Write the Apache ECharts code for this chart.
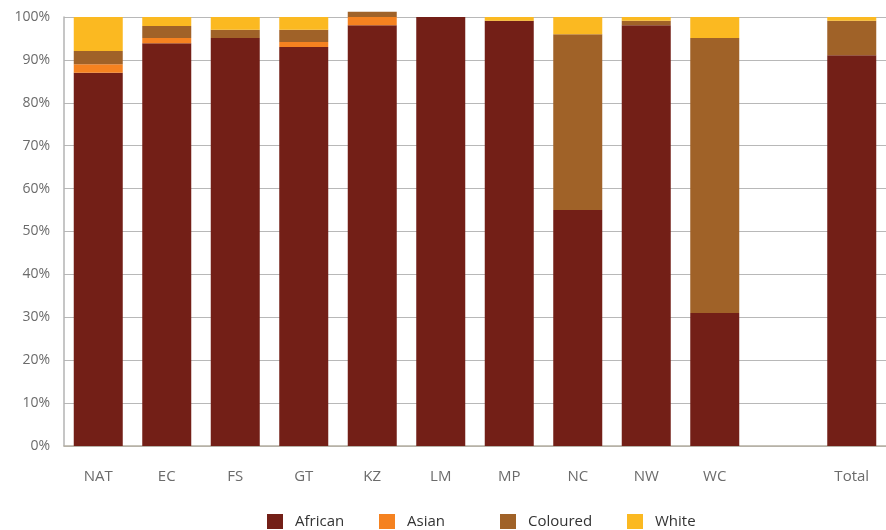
<!DOCTYPE html>
<html>
<head>
<meta charset="utf-8">
<style>
  html, body { margin: 0; padding: 0; background: #fff; }
  #chart { width: 886px; height: 530px; }
</style>
<script src="https://cdn.jsdelivr.net/npm/echarts@6/dist/echarts.min.js"></script>
</head>
<body>
<div id="chart"></div>
<script>
const categories = ['NAT', 'EC', 'FS', 'GT', 'KZ', 'LM', 'MP', 'NC', 'NW', 'WC', '', 'Total']
const african = [87.0, 93.9, 95.1, 93.0, 98.1, 100, 99.1, 55.0, 98.1, 31.0, null, 91.1]
const asian = [2.0, 1.2, 0, 1.2, 1.9, 0, 0, 0, 0, 0, null, 0]
const coloured = [3.1, 2.8, 1.9, 2.8, 1.2, 0, 0, 41.0, 1.0, 64.1, null, 8.0]
const white = [7.9, 2.1, 3.0, 3.0, 0, 0, 0.9, 4.0, 0.9, 4.9, null, 0.9]

const seriesNames = ['African', 'Asian', 'Coloured', 'White']
const seriesData = [african, asian, coloured, white]
const colors = ['#731f17', '#f58220', '#a06228', '#fbb921']
const legendLeft = [267, 379, 500, 627]

const font = '"Open Sans", "Liberation Sans", sans-serif'

const chart = echarts.init( document.getElementById( 'chart' ) )

chart.setOption( {
  animation : false,
  textStyle : { fontFamily : font },
  grid : {
    left : 64,
    right : -5,
    top : 17,
    bottom : 84
  },
  legend : seriesNames.map( ( name, i ) => ( {
    data : [name],
    left : legendLeft[i],
    top : 514,
    padding : 0,
    icon : 'rect',
    itemWidth : 16,
    itemHeight : 15,
    selectedMode : false,
    textStyle : {
      fontFamily : font,
      fontSize : 15,
      color : '#333',
      padding : [0, 0, 0, 7]
    }
  } ) ),
  xAxis : {
    type : 'category',
    data : categories,
    axisLine : { lineStyle : { color : '#b5b0a2', width : 1.5 }},
    axisTick : { show : false },
    axisLabel : {
      color : '#6b6b6b',
      fontSize : 15,
      margin : 23
    }
  },
  yAxis : {
    type : 'value',
    min : 0,
    max : 100,
    interval : 10,
    axisLine : { show : true, lineStyle : { color : '#b3b3b3', width : 1.5 }},
    axisTick : { show : false },
    splitLine : { lineStyle : { color : '#b8b8b8', width : 1.2 }},
    axisLabel : {
      color : '#6b6b6b',
      fontSize : 14,
      margin : 14,
      formatter : '{value}%'
    }
  },
  series : seriesNames.map( ( name, i ) => ( {
    name,
    type : 'bar',
    stack : 'total',
    barWidth : 49,
    clip : false,
    itemStyle : { color : colors[i] },
    data : seriesData[i]
  } ) )
} )
</script>
</body>
</html>
